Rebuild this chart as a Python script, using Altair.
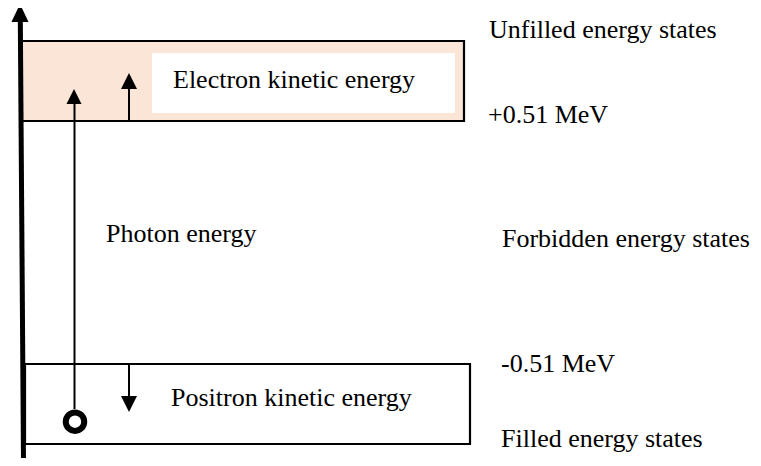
import altair as alt
import pandas as pd

# ---------------- diagram content (positions, in page pixels) -------------
# Energy bands (rectangles with a black outline)
band_names = ["Unfilled band", "Filled band"]
band_x0 = [21, 25]
band_x1 = [464, 470]
band_y0 = [41, 364]
band_y1 = [121, 444]
band_fill = ["#fbe5d6", "#ffffff"]

# White label panel inside the upper band
panel_x0 = [152]
panel_x1 = [455]
panel_y0 = [53]
panel_y1 = [113]

# Line segments (axis, photon, electron KE, positron KE)
seg_names = ["axis", "photon", "electron KE", "positron KE"]
seg_x0 = [23.5, 74.5, 129, 129]
seg_y0 = [461, 409, 121, 364]
seg_x1 = [20.3, 74.5, 129, 129]
seg_y1 = [18, 100, 85, 400]
seg_w = [5, 2, 2, 2]

# Arrow heads
head_x = [20, 74, 129, 129]
head_y = [13, 96.5, 81, 404]
head_shape = ["M0,-1L-0.95,1L0.95,1Z", "M0,-1L-1,1L1,1Z", "M0,-1L-1,1L1,1Z", "M0,1L-1,-1L1,-1Z"]
head_size = [324, 225, 256, 256]

# Positron (hole) marker
hole_x = [75]
hole_y = [421.7]

# Text labels
label_text = [
    "Unfilled energy states",
    "+0.51 MeV",
    "Forbidden energy states",
    "-0.51 MeV",
    "Filled energy states",
    "Photon energy",
    "Electron kinetic energy",
    "Positron kinetic energy",
]
label_x = [489, 488, 502, 501, 501, 106, 173, 171]
label_y = [38, 123, 247, 372, 447, 242, 88, 406]

# ---------------- chart ----------------
W, H = 745, 450
xs = alt.Scale(domain=[8, 8 + W], nice=False, zero=False)
ys = alt.Scale(domain=[8, 8 + H], nice=False, zero=False, reverse=True)

bands = pd.DataFrame(dict(name=band_names, x0=band_x0, x1=band_x1, y0=band_y0, y1=band_y1, fill=band_fill))
panel = pd.DataFrame(dict(x0=panel_x0, x1=panel_x1, y0=panel_y0, y1=panel_y1))
segs = pd.DataFrame(dict(name=seg_names, x0=seg_x0, y0=seg_y0, x1=seg_x1, y1=seg_y1, w=seg_w))
heads = pd.DataFrame(dict(x=head_x, y=head_y, shape=head_shape, size=head_size))
hole = pd.DataFrame(dict(x=hole_x, y=hole_y))
labels = pd.DataFrame(dict(text=label_text, x=label_x, y=label_y))

band_layer = alt.Chart(bands).mark_rect(stroke="black", strokeWidth=2.2).encode(
    x=alt.X("x0:Q", scale=xs, axis=None),
    x2="x1:Q",
    y=alt.Y("y0:Q", scale=ys, axis=None),
    y2="y1:Q",
    fill=alt.Fill("fill:N", scale=None),
)

panel_layer = alt.Chart(panel).mark_rect(fill="white", strokeWidth=0).encode(
    x=alt.X("x0:Q", scale=xs, axis=None),
    x2="x1:Q",
    y=alt.Y("y0:Q", scale=ys, axis=None),
    y2="y1:Q",
)

seg_layer = alt.Chart(segs).mark_rule(color="black").encode(
    x=alt.X("x0:Q", scale=xs, axis=None),
    x2="x1:Q",
    y=alt.Y("y0:Q", scale=ys, axis=None),
    y2="y1:Q",
    strokeWidth=alt.StrokeWidth("w:Q", scale=None),
)

head_layer = alt.Chart(heads).mark_point(filled=True, color="black", opacity=1).encode(
    x=alt.X("x:Q", scale=xs, axis=None),
    y=alt.Y("y:Q", scale=ys, axis=None),
    shape=alt.Shape("shape:N", scale=None),
    size=alt.Size("size:Q", scale=None),
)

hole_layer = alt.Chart(hole).mark_point(
    shape="circle", filled=False, color="black", size=342, strokeWidth=6, opacity=1
).encode(
    x=alt.X("x:Q", scale=xs, axis=None),
    y=alt.Y("y:Q", scale=ys, axis=None),
)

text_layer = alt.Chart(labels).mark_text(
    align="left", baseline="alphabetic",
    font="'Liberation Serif', 'Times New Roman', 'DejaVu Serif', serif",
    fontSize=26, color="#000000"
).encode(
    x=alt.X("x:Q", scale=xs, axis=None),
    y=alt.Y("y:Q", scale=ys, axis=None),
    text="text:N",
)

chart = (
    alt.layer(band_layer, panel_layer, seg_layer, head_layer, hole_layer, text_layer)
    .properties(width=W, height=H, autosize=alt.AutoSizeParams(type="none"), padding=0)
    .configure(background="white", view=alt.ViewConfig(stroke="transparent", strokeWidth=0))
)

chart.save("out.html", embed_options={"renderer": "svg", "actions": False})
